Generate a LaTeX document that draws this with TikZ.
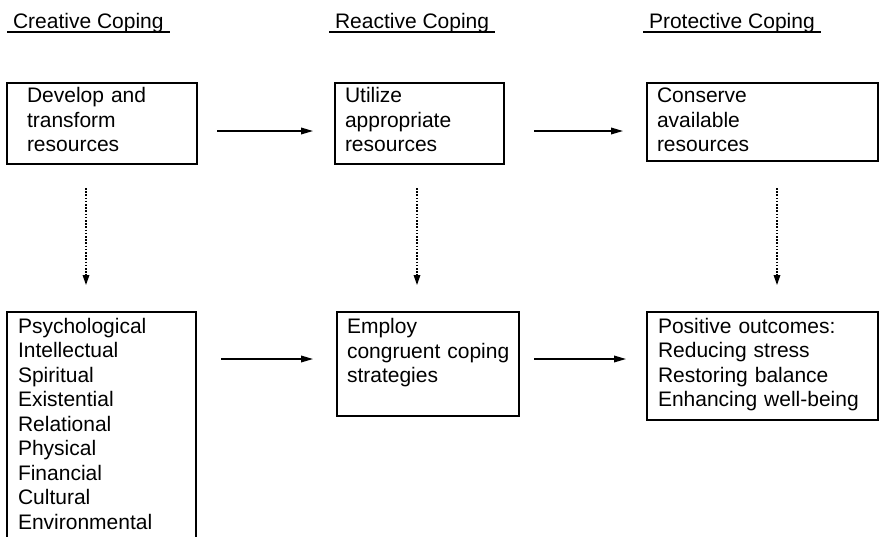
\documentclass[tikz,border=0pt]{standalone}
\usepackage{fontspec}
\setmainfont{Liberation Sans}
\usetikzlibrary{arrows.meta,calc}
\tikzset{
  boxnode/.style={draw, line width=1.2pt, anchor=north west, inner sep=0pt, outer sep=0pt},
  txtnode/.style={anchor=north west, inner sep=0pt, outer sep=0pt, align=left, text width=180pt,
    font=\fontsize{15.75}{18.4}\selectfont},
  headnode/.style={anchor=base west, inner sep=0pt, outer sep=0pt, font=\fontsize{15.75}{18.4}\selectfont},
  uline/.style={line width=1pt},
  flowarrow/.style={line width=1pt, -{Triangle[length=9pt,width=5pt]}},
  dotarrow/.style={line width=0.9pt, dash pattern=on 1.2pt off 1.2pt, -{Triangle[length=7.5pt,width=5pt]}}
}
\begin{document}
\begin{tikzpicture}[x=0.75pt,y=-0.75pt]
\clip (0,0) rectangle (879,536);
\fill[white] (0,0) rectangle (879,536);
% headings
\node[headnode] (h1) at (13,28) {Creative Coping};
\node[headnode] (h2) at (335,28) {Reactive Coping};
\node[headnode] (h3) at (649,28) {Protective Coping};
\foreach \h in {h1,h2,h3}{
  \draw[uline] ($(\h.base west)+(-6,4)$) -- ($(\h.base east)+(6,4)$);
}
% boxes
\node[boxnode, minimum width=142.5pt, minimum height=60.75pt] (b1) at (7,83) {};
\node[boxnode, minimum width=126.75pt, minimum height=60.75pt] (b2) at (335,83) {};
\node[boxnode, minimum width=173.25pt, minimum height=58.5pt] (b3) at (647,83) {};
\node[boxnode, minimum width=141.75pt, minimum height=180pt] (b4) at (7,312) {};
\node[boxnode, minimum width=136.5pt, minimum height=78pt] (b5) at (337,312) {};
\node[boxnode, minimum width=173.25pt, minimum height=81pt] (b6) at (647,312) {};
% texts
\node[txtnode] (t1) at ($(b1.north west)+(20,2.5)$) {\strut Develop and\\transform\\resources};
\node[txtnode] (t2) at ($(b2.north west)+(10,2.5)$) {\strut Utilize\\appropriate\\resources};
\node[txtnode] (t3) at ($(b3.north west)+(10,2.5)$) {\strut Conserve\\available\\resources};
\node[txtnode] (t4) at ($(b4.north west)+(11,4)$) {\strut Psychological\\Intellectual\\Spiritual\\Existential\\Relational\\Physical\\Financial\\Cultural\\Environmental};
\node[txtnode] (t5) at ($(b5.north west)+(10,4.5)$) {\strut Employ\\congruent coping\\strategies};
\node[txtnode] (t6) at ($(b6.north west)+(11,4)$) {\strut Positive outcomes:\\Reducing stress\\Restoring balance\\Enhancing well-being};
% arrow end points
\coordinate (a1s) at (217,131); \coordinate (a1e) at (313,131);
\coordinate (a2s) at (534,131); \coordinate (a2e) at (623,131);
\coordinate (a3s) at (221,359); \coordinate (a3e) at (313,359);
\coordinate (a4s) at (534,359); \coordinate (a4e) at (626,359);
\coordinate (d1s) at (86,188); \coordinate (d1e) at (86,285);
\coordinate (d2s) at (417,188); \coordinate (d2e) at (417,285);
\coordinate (d3s) at (777,188); \coordinate (d3e) at (777,285);
\draw[flowarrow] (a1s) -- (a1e);
\draw[flowarrow] (a2s) -- (a2e);
\draw[flowarrow] (a3s) -- (a3e);
\draw[flowarrow] (a4s) -- (a4e);
\draw[dotarrow] (d1s) -- (d1e);
\draw[dotarrow] (d2s) -- (d2e);
\draw[dotarrow] (d3s) -- (d3e);
\end{tikzpicture}
\end{document}
